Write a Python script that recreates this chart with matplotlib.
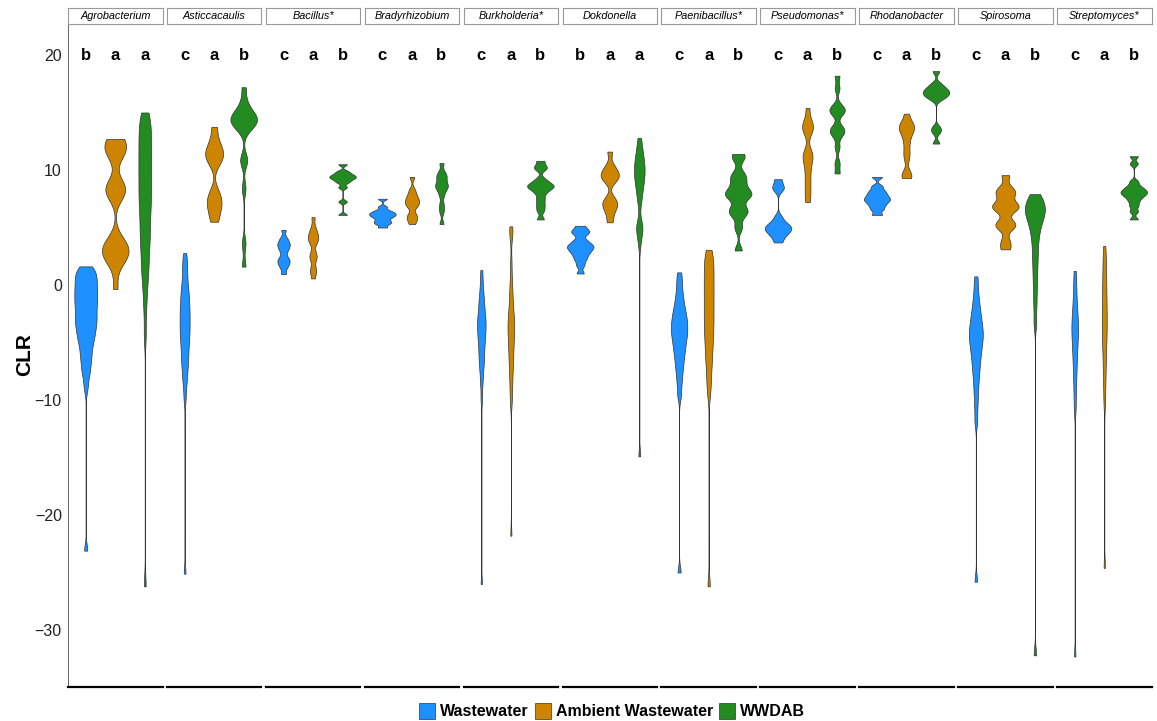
import numpy as np
import matplotlib
matplotlib.use("Agg")
import matplotlib.pyplot as plt
from matplotlib import cbook, mlab
from matplotlib.patches import Patch

plt.rcParams['font.family'] = ['Liberation Sans', 'DejaVu Sans']

# ---------------- data (CLR values) ----------------
genera = ["Agrobacterium", "Asticcacaulis", "Bacillus*", "Bradyrhizobium",
          "Burkholderia*", "Dokdonella", "Paenibacillus*", "Pseudomonas*",
          "Rhodanobacter", "Spirosoma", "Streptomyces*"]
groups = ["Wastewater", "Ambient Wastewater", "WWDAB"]

letters_agrobacterium = ["b", "a", "a"]
letters_asticcacaulis = ["c", "a", "b"]
letters_bacillus = ["c", "a", "b"]
letters_bradyrhizobium = ["c", "a", "b"]
letters_burkholderia = ["c", "a", "b"]
letters_dokdonella = ["b", "a", "a"]
letters_paenibacillus = ["c", "a", "b"]
letters_pseudomonas = ["c", "a", "b"]
letters_rhodanobacter = ["c", "a", "b"]
letters_spirosoma = ["c", "a", "b"]
letters_streptomyces = ["c", "a", "b"]

agrobacterium_ww = [1.62, 1.41, 1.18, 1.02, 0.83, 0.57, 0.41, 0.16, -0.03, -0.22, -0.45,
                    -0.61, -0.84, -1.02, -1.25, -1.43, -1.58, -1.83, -2.04, -2.25, -2.46,
                    -2.7, -2.88, -3.1, -3.3, -3.48, -3.72, -3.95, -4.2, -4.45, -4.7, -4.95,
                    -5.3, -5.7, -6.05, -6.45, -6.9, -7.4, -7.9, -8.9, -23.1]
agrobacterium_aw = [12.7, 12.5, 12.2, 11.9, 11.6, 11.25, 8.75, 8.5, 8.3, 8.1, 7.85,
                    4.0, 3.6, 3.35, 3.1, 2.85, 2.6, 2.3, 1.9, -0.35]
agrobacterium_wwdab = [15.0, 14.7, 14.3, 13.95, 13.6, 13.2, 12.85, 12.5, 12.1, 11.8, 11.4,
                       11.05, 10.7, 10.35, 10.0, 9.6, 9.25, 8.9, 8.55, 8.2, 7.8, 7.45, 7.1,
                       6.75, 6.4, 5.9, 5.45, 5.0, 4.6, 4.15, 3.7, 3.25, 2.7, 2.1, 1.5, 0.9,
                       0.3, -0.8, -2.1, -4.3, -26.2]

asticcacaulis_ww = [2.77, 2.1, 1.5, 0.9, 0.35, -0.2, -0.55, -0.9, -1.25, -1.6, -1.9, -2.2,
                    -2.5, -2.8, -3.1, -3.4, -3.7, -4.0, -4.3, -4.6, -4.9, -5.3, -5.7, -6.1,
                    -6.5, -6.9, -7.4, -8.0, -8.6, -9.8, -25.1]
asticcacaulis_aw = [13.75, 12.6, 12.0, 11.6, 11.3, 11.0, 10.5, 8.2, 7.6, 7.2, 6.8, 6.2, 5.5]
asticcacaulis_wwdab = [17.2, 16.0, 15.3, 15.0, 14.8, 14.6, 14.45, 14.3, 14.15, 14.0, 13.8,
                       13.5, 11.0, 10.7, 8.4, 3.6, 1.6]

bacillus_ww = [4.8, 4.1, 3.8, 3.6, 3.4, 3.2, 2.9, 2.4, 2.2, 2.0, 1.8, 1.5, 0.94]
bacillus_aw = [5.9, 5.0, 4.6, 4.3, 4.1, 3.9, 3.6, 2.8, 2.5, 2.2, 1.4, 1.2, 0.57]
bacillus_wwdab = [10.5, 9.9, 9.7, 9.55, 9.45, 9.35, 9.25, 9.1, 8.9, 8.5, 7.25, 6.1]

bradyrhizobium_ww = [7.5, 6.8, 6.5, 6.35, 6.25, 6.15, 6.05, 5.95, 5.8, 5.6, 5.45, 5.3, 5.0]
bradyrhizobium_aw = [9.4, 8.3, 7.9, 7.6, 7.4, 7.2, 7.0, 6.8, 6.2, 5.9, 5.7, 5.3]
bradyrhizobium_wwdab = [10.6, 9.8, 9.5, 9.3, 8.9, 8.7, 8.5, 8.3, 7.8, 7.0, 6.4, 5.3]

burkholderia_ww = [1.3, 0.5, -0.2, -0.7, -1.15, -1.45, -1.8, -2.1, -2.4, -2.65, -2.9, -3.1,
                   -3.3, -3.55, -3.75, -3.95, -4.2, -4.45, -4.7, -4.95, -5.25, -5.6, -5.9,
                   -6.25, -6.6, -6.95, -7.4, -8.0, -8.7, -9.9, -26.0]
burkholderia_aw = [5.1, 4.7, 4.3, 2.0, 0.6, -0.2, -0.9, -1.5, -2.0, -2.4, -2.8, -3.1, -3.4,
                   -3.7, -4.0, -4.3, -4.65, -5.0, -5.4, -5.8, -6.25, -6.7, -7.2, -7.8, -8.5,
                   -9.3, -10.2, -21.8]
burkholderia_wwdab = [10.8, 10.3, 10.1, 9.2, 8.9, 8.7, 8.6, 8.5, 8.3, 8.0, 7.5, 7.0, 6.5, 5.7]

dokdonella_ww = [5.15, 4.8, 4.62, 4.45, 3.95, 3.7, 3.5, 3.38, 3.25, 3.1, 2.92, 2.72, 2.45,
                 2.15, 1.7, 1.0]
dokdonella_aw = [11.6, 10.4, 10.0, 9.7, 9.5, 9.3, 9.0, 7.6, 7.2, 7.0, 6.7, 6.2, 5.45]
dokdonella_wwdab = [12.8, 12.2, 11.7, 11.3, 11.0, 10.7, 10.45, 10.2, 9.95, 9.7, 9.45, 9.2,
                    8.9, 8.6, 8.2, 7.7, 7.1, 5.4, 5.1, 4.85, 4.5, 3.6, -14.9]

paenibacillus_ww = [1.1, 0.3, -0.4, -1.0, -1.5, -1.9, -2.25, -2.55, -2.85, -3.1, -3.35,
                    -3.6, -3.85, -4.1, -4.35, -4.6, -4.9, -5.2, -5.55, -5.9, -6.3, -6.75,
                    -7.25, -7.85, -8.6, -9.6, -25.0]
paenibacillus_aw = [3.06, 2.45, 2.05, 1.45, 1.05, 0.45, 0.05, -0.55, -0.95, -1.5, -2.05,
                    -2.45, -3.0, -3.55, -3.95, -4.55, -5.1, -5.75, -6.4, -7.2, -8.15, -9.3,
                    -26.2]
paenibacillus_wwdab = [11.4, 11.0, 9.7, 9.3, 8.8, 8.2, 8.0, 7.8, 7.6, 6.7, 6.4, 6.1, 5.0, 3.0]

pseudomonas_ww = [9.2, 8.6, 8.3, 5.9, 5.4, 5.2, 5.0, 4.9, 4.7, 4.5, 4.2, 3.7]
pseudomonas_aw = [15.4, 14.2, 13.9, 13.6, 13.3, 11.6, 11.3, 11.0, 10.4, 9.6, 8.8, 8.0, 7.2]
pseudomonas_wwdab = [18.2, 17.1, 15.6, 15.3, 15.1, 14.9, 13.8, 13.5, 13.3, 13.0, 12.0, 10.6,
                     9.7]

rhodanobacter_ww = [9.4, 8.6, 8.25, 8.0, 7.8, 7.6, 7.45, 7.3, 7.1, 6.85, 6.55, 6.1]
rhodanobacter_aw = [14.9, 14.2, 13.95, 13.75, 13.55, 13.3, 12.9, 12.3, 11.6, 11.0, 9.8, 9.45,
                    9.3]
rhodanobacter_wwdab = [18.6, 17.5, 17.2, 17.0, 16.85, 16.7, 16.55, 16.4, 16.15, 13.7, 13.3,
                       12.3]

spirosoma_ww = [0.75, -0.2, -1.0, -1.6, -2.1, -2.5, -2.85, -3.2, -3.5, -3.8, -4.05, -4.3,
                -4.55, -4.8, -5.1, -5.4, -5.75, -6.1, -6.5, -6.95, -7.45, -8.0, -8.7, -9.5,
                -10.5, -11.8, -25.8]
spirosoma_aw = [9.55, 8.4, 8.1, 7.8, 7.1, 6.9, 6.7, 6.5, 5.5, 5.2, 5.0, 3.8, 3.1]
spirosoma_wwdab = [7.9, 7.65, 7.4, 7.2, 7.0, 6.8, 6.6, 6.45, 6.3, 6.1, 5.9, 5.65, 5.35, 5.0,
                   4.6, 4.1, 3.5, 2.8, 2.1, 1.3, 0.4, -0.6, -1.8, -3.3, -32.2]

streptomyces_ww = [1.23, 0.3, -0.5, -1.2, -1.8, -2.3, -2.75, -3.15, -3.5, -3.85, -4.2, -4.6,
                   -5.0, -5.45, -5.95, -6.5, -7.1, -7.8, -8.6, -9.6, -10.8, -32.3]
streptomyces_aw = [3.4, 2.5, 1.7, 1.0, 0.35, -0.3, -0.9, -1.5, -2.05, -2.6, -3.1, -3.6,
                   -4.15, -4.7, -5.3, -6.0, -6.8, -7.7, -8.8, -10.2, -24.6]
streptomyces_wwdab = [11.2, 10.55, 9.0, 8.6, 8.4, 8.2, 8.1, 7.95, 7.8, 7.6, 7.3, 6.9, 6.4, 5.7]

panel_data = [
    (agrobacterium_ww, agrobacterium_aw, agrobacterium_wwdab),
    (asticcacaulis_ww, asticcacaulis_aw, asticcacaulis_wwdab),
    (bacillus_ww, bacillus_aw, bacillus_wwdab),
    (bradyrhizobium_ww, bradyrhizobium_aw, bradyrhizobium_wwdab),
    (burkholderia_ww, burkholderia_aw, burkholderia_wwdab),
    (dokdonella_ww, dokdonella_aw, dokdonella_wwdab),
    (paenibacillus_ww, paenibacillus_aw, paenibacillus_wwdab),
    (pseudomonas_ww, pseudomonas_aw, pseudomonas_wwdab),
    (rhodanobacter_ww, rhodanobacter_aw, rhodanobacter_wwdab),
    (spirosoma_ww, spirosoma_aw, spirosoma_wwdab),
    (streptomyces_ww, streptomyces_aw, streptomyces_wwdab),
]
panel_letters = [letters_agrobacterium, letters_asticcacaulis, letters_bacillus,
                 letters_bradyrhizobium, letters_burkholderia, letters_dokdonella,
                 letters_paenibacillus, letters_pseudomonas, letters_rhodanobacter,
                 letters_spirosoma, letters_streptomyces]

# ---------------- style ----------------
colors = ["#1E90FF", "#CD8500", "#228B22"]
edge = "#333333"
BW_ADJUST = 0.42
W, H = 1157, 721


def nrd0(x):
    x = np.asarray(x, float)
    sd = np.std(x, ddof=1)
    q75, q25 = np.percentile(x, [75, 25])
    lo = min(sd, (q75 - q25) / 1.34)
    if lo <= 0:
        lo = sd
    return 0.9 * lo * len(x) ** (-0.2)


def kde_method(x, coords):
    x = np.asarray(x, float)
    bw = nrd0(x) * BW_ADJUST
    kde = mlab.GaussianKDE(x, bw_method=bw / np.std(x, ddof=1))
    return kde.evaluate(coords)


fig = plt.figure(figsize=(W / 100, H / 100), dpi=100)

panel_top_px, panel_bot_px = 24, 687
strip_top_px = 8
left0, step, pw = 68, 98.9, 94.5
ylim = ((285 - panel_bot_px) / 11.5, (285 - panel_top_px) / 11.5)

for i, (name, data, lets) in enumerate(zip(genera, panel_data, panel_letters)):
    lx = left0 + i * step
    ax = fig.add_axes([lx / W, (H - panel_bot_px) / H, pw / W,
                       (panel_bot_px - panel_top_px) / H])
    stats = [cbook.violin_stats(np.asarray(d, float), kde_method, points=512)[0] for d in data]
    peaks = [np.max(s['vals']) for s in stats]
    pmax = max(peaks)
    widths = [0.9 * p / pmax for p in peaks]
    parts = ax.violin(stats, positions=[1, 2, 3], widths=widths,
                      showmeans=False, showextrema=False, showmedians=False)
    for body, c in zip(parts['bodies'], colors):
        body.set_facecolor(c)
        body.set_edgecolor(edge)
        body.set_linewidth(0.5)
        body.set_alpha(1)
    for pos, l in zip([1, 2, 3], lets):
        ax.text(pos, 20, l, ha='center', va='center', fontsize=12,
                fontweight='bold', color='black')
    ax.set_xlim(0.4, 3.6)
    ax.set_ylim(*ylim)
    ax.set_xticks([])
    for s in ['top', 'right']:
        ax.spines[s].set_visible(False)
    ax.spines['bottom'].set_linewidth(1.6)
    ax.spines['bottom'].set_color('black')
    if i == 0:
        ax.spines['left'].set_color('#666666')
        ax.spines['left'].set_linewidth(0.7)
        ax.set_yticks([-30, -20, -10, 0, 10, 20])
        ax.tick_params(axis='y', length=0, pad=4.5, labelsize=11.5, labelcolor='#222222')
    else:
        ax.spines['left'].set_visible(False)
        ax.set_yticks([])
    # strip
    sax = fig.add_axes([lx / W, (H - panel_top_px) / H, pw / W,
                        (panel_top_px - strip_top_px) / H])
    sax.set_xticks([])
    sax.set_yticks([])
    for s in sax.spines.values():
        s.set_color('#999999')
        s.set_linewidth(0.8)
    sax.text(0.5, 0.5, name, ha='center', va='center', fontsize=7.8,
             style='italic', color='black', transform=sax.transAxes)

fig.text(25 / W, 1 - 355 / H, "CLR", rotation=90, ha='center', va='center',
         fontsize=15, fontweight='bold')

handles = [Patch(facecolor=c, edgecolor=edge, linewidth=0.5, label=g)
           for c, g in zip(colors, groups)]
fig.legend(handles=handles, loc='center', bbox_to_anchor=(612 / W, 1 - 711 / H),
           ncol=3, frameon=False, handlelength=1.0, handleheight=1.2,
           handletextpad=0.3, columnspacing=0.4,
           prop={'weight': 'bold', 'size': 11.5})

fig.savefig("out.png", dpi=100)
